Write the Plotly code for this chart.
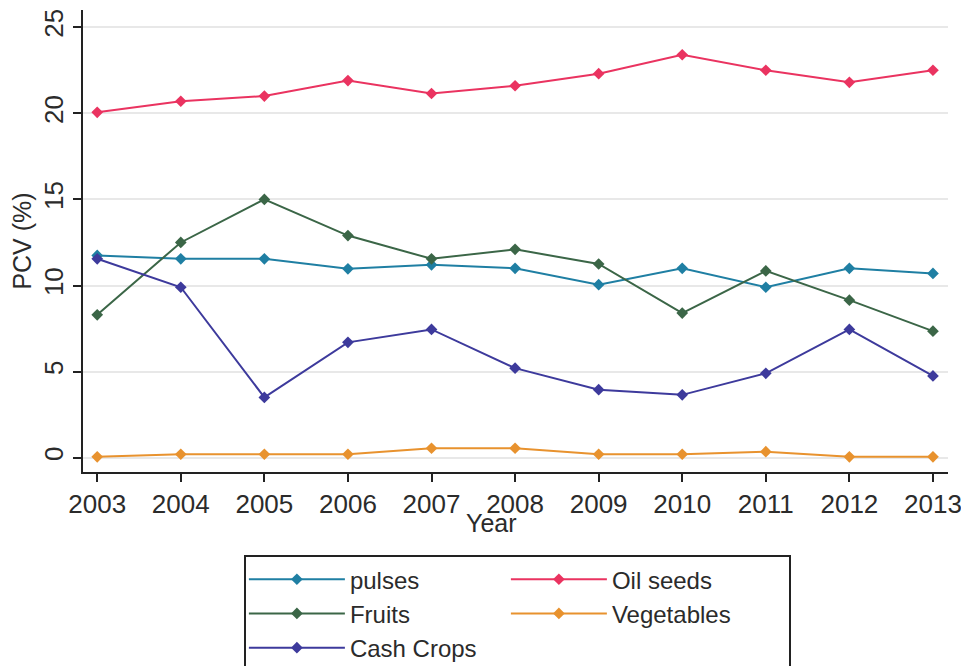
import plotly.graph_objects as go

years = [2003, 2004, 2005, 2006, 2007, 2008, 2009, 2010, 2011, 2012, 2013]
pulses = [11.75, 11.55, 11.55, 10.97, 11.2, 11.0, 10.05, 11.0, 9.9, 11.0, 10.7]
oil_seeds = [20.06, 20.7, 21.0, 21.9, 21.15, 21.6, 22.3, 23.4, 22.5, 21.8, 22.5]
fruits = [8.3, 12.5, 15.0, 12.9, 11.55, 12.1, 11.25, 8.4, 10.85, 9.15, 7.35]
vegetables = [0.05, 0.2, 0.2, 0.2, 0.55, 0.55, 0.2, 0.2, 0.35, 0.05, 0.05]
cash_crops = [11.55, 9.9, 3.5, 6.7, 7.45, 5.2, 3.95, 3.65, 4.9, 7.45, 4.75]

y_ticks = [0, 5, 10, 15, 20, 25]

# (name, values, colour, legend column)
series = [
    ("pulses", pulses, "#1f7fa3", "col1"),
    ("Oil seeds", oil_seeds, "#ea3360", "col2"),
    ("Fruits", fruits, "#3b6647", "col1"),
    ("Vegetables", vegetables, "#e8922e", "col2"),
    ("Cash Crops", cash_crops, "#3d3a9c", "col1"),
]
col_widths = {"col1": 151, "col2": 172}

FONT = "Liberation Sans, Arial, sans-serif"
TXT = "#2b2b2b"

fig = go.Figure()
for name, vals, col, grp in series:
    fig.add_trace(go.Scatter(
        x=years, y=vals, name=name, mode="lines+markers",
        legendgroup=grp, legendwidth=col_widths[grp],
        line=dict(color=col, width=2),
        marker=dict(symbol="diamond", size=9, color=col),
    ))

# page has an 8px body margin: figure is 961x658 placed at (8,8)
fig.update_layout(
    width=961, height=658,
    margin=dict(l=75, r=21, t=2, b=194, autoexpand=False),
    paper_bgcolor="white", plot_bgcolor="white",
    font=dict(family=FONT, size=26, color=TXT),
    showlegend=True,
    legend=dict(
        orientation="h", x=0.186, y=-0.18, xanchor="left", yanchor="top",
        traceorder="grouped", groupclick="toggleitem",
        entrywidthmode="pixels",
        bordercolor="#222222", borderwidth=2,
        font=dict(family=FONT, size=24, color=TXT),
        tracegroupgap=0, itemwidth=96,
    ),
    xaxis=dict(
        range=[2002.83, 2013.18], tickmode="array", tickvals=years,
        ticks="outside", ticklen=8, tickwidth=2, tickcolor="#222222",
        showline=True, linecolor="#222222", linewidth=2,
        showgrid=False, zeroline=False,
        tickfont=dict(size=26),
    ),
    yaxis=dict(
        range=[-0.83, 26.0], tickmode="array", tickvals=y_ticks,
        ticks="outside", ticklen=8, tickwidth=2, tickcolor="#222222",
        showline=True, linecolor="#222222", linewidth=2,
        showgrid=True, gridcolor="#e8e8e8", gridwidth=2, zeroline=False,
        tickangle=-90, tickfont=dict(size=26),
        title=dict(text="PCV (%)", font=dict(size=25), standoff=4),
    ),
    annotations=[dict(
        text="Year", x=2007.72, xref="x", y=-0.11, yref="paper",
        xanchor="center", yanchor="middle", showarrow=False,
        font=dict(family=FONT, size=25, color=TXT),
    )],
)

fig.write_html("out.html")
